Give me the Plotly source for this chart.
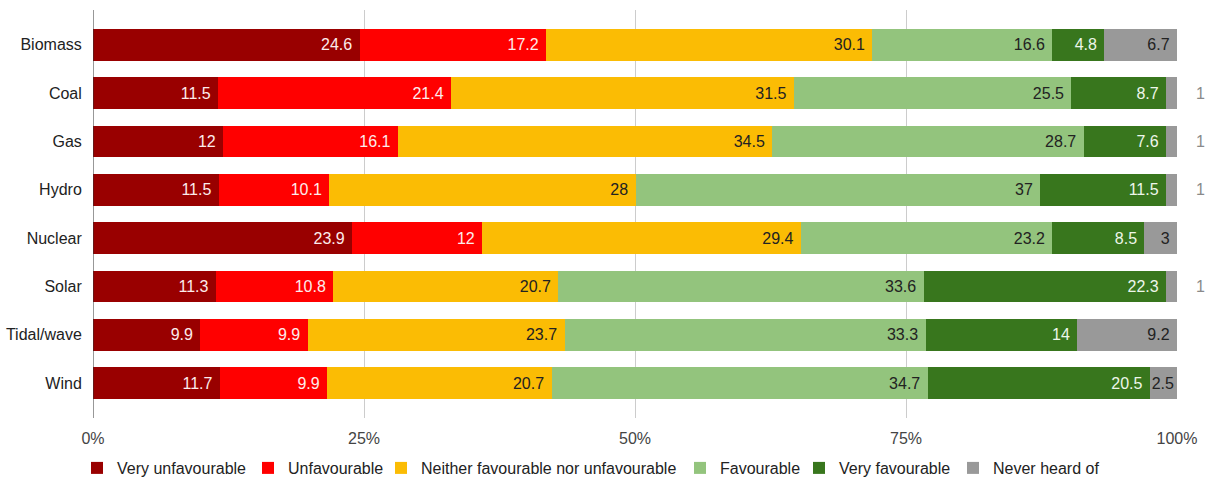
import plotly.graph_objects as go

categories = ["Biomass", "Coal", "Gas", "Hydro", "Nuclear", "Solar", "Tidal/wave", "Wind"]
very_unfav = [24.6, 11.5, 12, 11.5, 23.9, 11.3, 9.9, 11.7]
unfav = [17.2, 21.4, 16.1, 10.1, 12, 10.8, 9.9, 9.9]
neither = [30.1, 31.5, 34.5, 28, 29.4, 20.7, 23.7, 20.7]
fav = [16.6, 25.5, 28.7, 37, 23.2, 33.6, 33.3, 34.7]
very_fav = [4.8, 8.7, 7.6, 11.5, 8.5, 22.3, 14, 20.5]
never = [6.7, 1, 1, 1, 3, 1, 9.2, 2.5]
tick_vals = [0, 25, 50, 75, 100]
tick_text = ["0%", "25%", "50%", "75%", "100%"]

series = [
    ("Very unfavourable", very_unfav, "#990000", "#fdecec"),
    ("Unfavourable", unfav, "#ff0000", "#fdecec"),
    ("Neither favourable nor unfavourable", neither, "#fbbc04", "#222222"),
    ("Favourable", fav, "#93c47d", "#222222"),
    ("Very favourable", very_fav, "#38761d", "#eef6ea"),
    ("Never heard of", never, "#999999", "#222222"),
]

# left edge (px) of each legend swatch in the picture
legend_px = [91, 262, 395, 694, 813, 967]
PLOT_L, PLOT_W = 93, 1084

FONT = "Liberation Sans, Arial, sans-serif"
NB = "\u00a0"

fig = go.Figure()
layout_legends = {}
for i, (name, vals, color, tcolor) in enumerate(series):
    lname = "legend" if i == 0 else f"legend{i+1}"
    if name == "Never heard of":
        pos = ["outside" if v < 2 else "inside" for v in vals]
        tcols = ["#8a8a8a" if v < 2 else tcolor for v in vals]
        texts = []
        for v in vals:
            if v < 2:
                texts.append("\u2002\u2002" + f"{v:g}")
            elif v < 3:
                texts.append(f"{v:g}")
            else:
                texts.append(f"{v:g}" + NB)
    else:
        pos = ["inside"] * len(vals)
        tcols = [tcolor] * len(vals)
        texts = [f"{v:g}" + NB for v in vals]
    fig.add_trace(go.Bar(
        y=categories, x=vals, name=name, orientation="h",
        marker=dict(color=color, line=dict(width=0)),
        text=texts,
        textposition=pos,
        textangle=0,
        insidetextanchor="end",
        textfont=dict(color=tcols, size=16, family=FONT),
        outsidetextfont=dict(color=tcols, size=16, family=FONT),
        insidetextfont=dict(color=tcols, size=16, family=FONT),
        constraintext="none",
        cliponaxis=False,
        legend=lname,
        showlegend=True,
    ))
    layout_legends[lname] = dict(
        orientation="h", x=(legend_px[i] - 14 - PLOT_L) / PLOT_W, xanchor="left",
        yref="container", y=(484 - 468) / 484, yanchor="middle",
        font=dict(size=16, color="#222222", family=FONT),
        bgcolor="rgba(0,0,0,0)",
    )

fig.update_layout(
    showlegend=True,
    barmode="stack",
    barnorm="percent",
    bargap=0.34,
    width=1205, height=484,
    margin=dict(l=93, r=28, t=10, b=66, autoexpand=False),
    paper_bgcolor="white", plot_bgcolor="white",
    font=dict(family=FONT, size=16, color="#222222"),
    xaxis=dict(range=[0, 100], tickvals=tick_vals, ticktext=tick_text,
               showgrid=True, gridcolor="#cccccc", gridwidth=1,
               zeroline=False, tickfont=dict(size=16, color="#444444", family=FONT),
               showline=False, ticks="outside", ticklen=6, tickcolor="rgba(0,0,0,0)"),
    yaxis=dict(range=[7.72, -0.72], showgrid=False, zeroline=False,
               tickfont=dict(size=16, color="#222222", family=FONT),
               ticks="outside", ticklen=7, tickcolor="rgba(0,0,0,0)",
               showline=False),
    shapes=[dict(type="line", xref="x", yref="paper", x0=0, x1=0, y0=0, y1=1,
                 line=dict(color="#333333", width=1))],
    **layout_legends,
)

fig.write_html("out.html")
